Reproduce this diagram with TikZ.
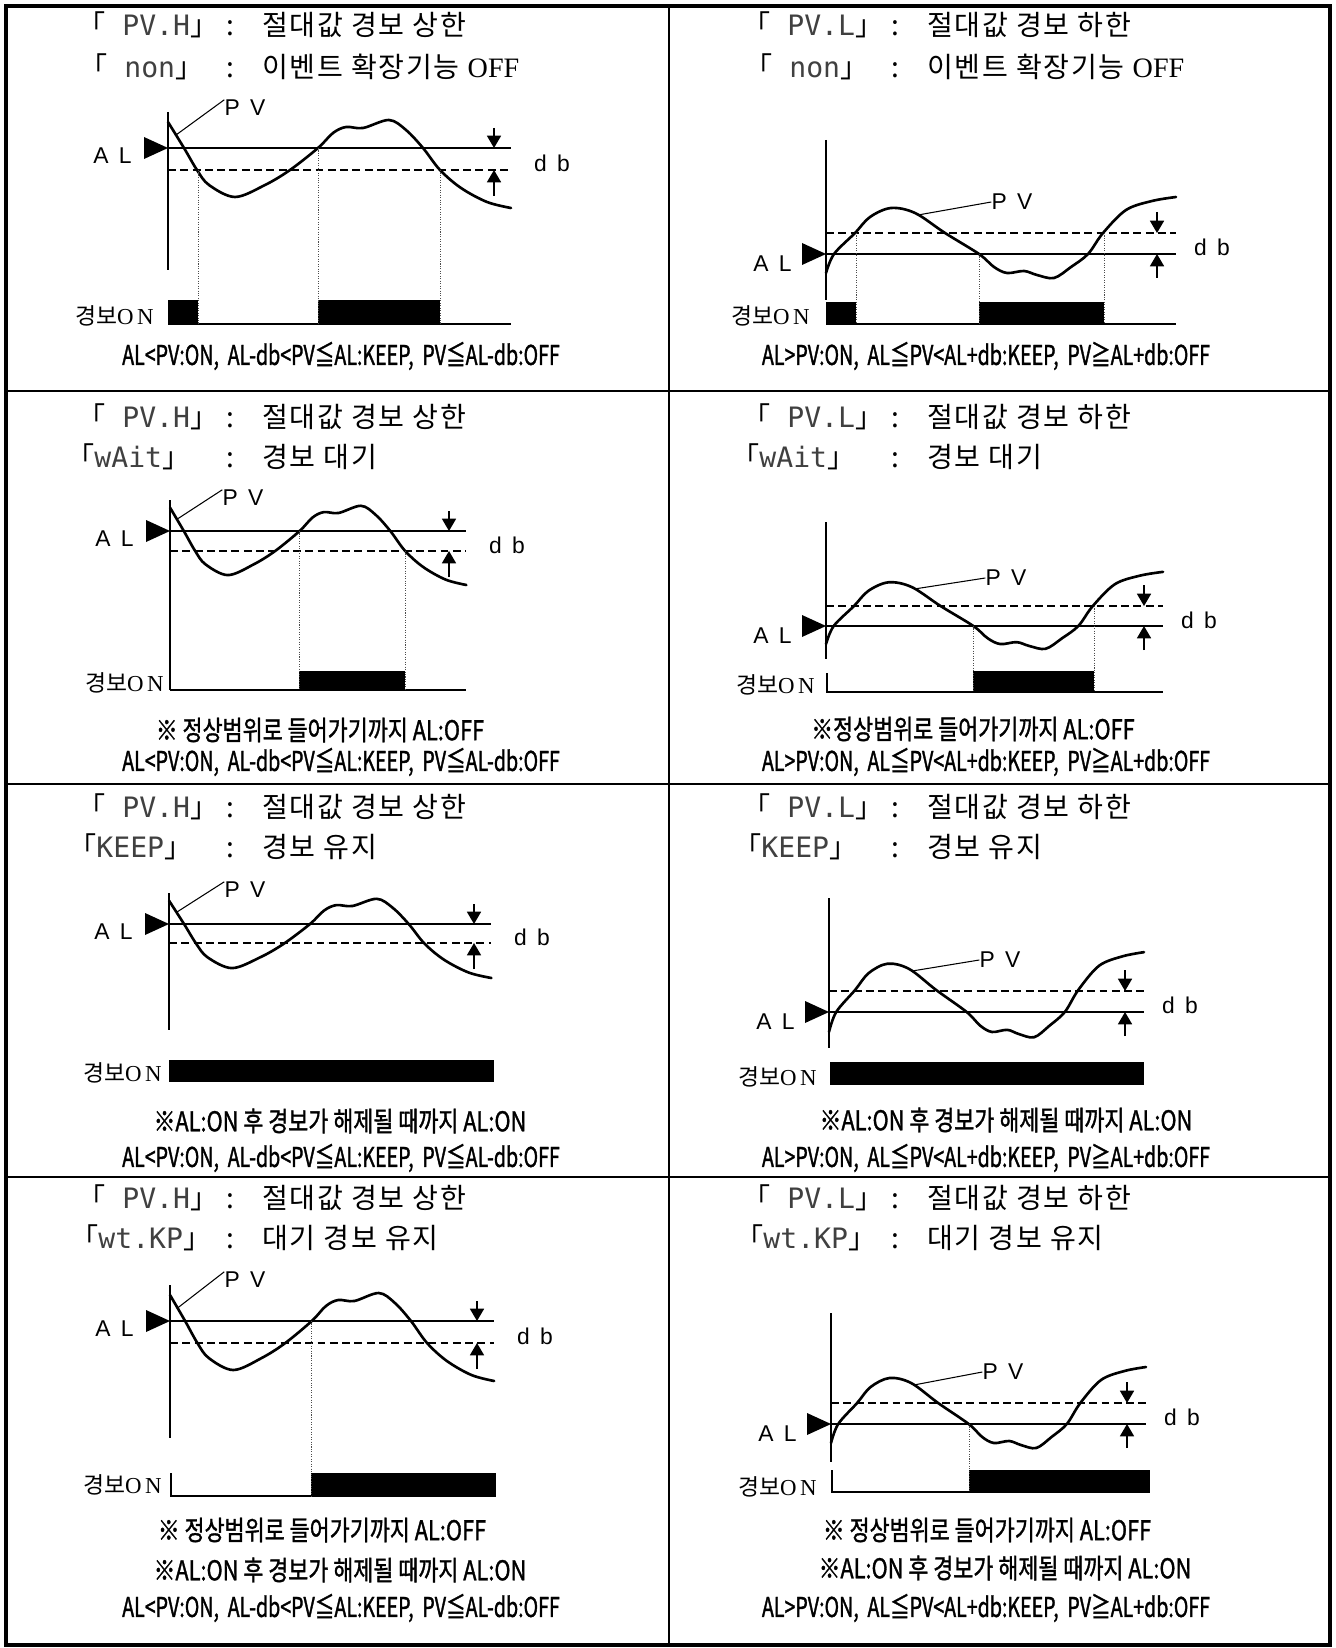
\documentclass[tikz,border=0pt]{standalone}
\usepackage{fontspec}
\usetikzlibrary{arrows.meta}
\setmainfont{Liberation Serif}
\newfontfamily\krfont{Noto Sans CJK KR}
\newfontfamily\headfont[LetterSpace=6]{Noto Sans CJK KR}
\newfontfamily\segfont{DejaVu Sans Mono}
\newfontfamily\labfont[LetterSpace=45]{Liberation Sans}
\newfontfamily\onfont[LetterSpace=15]{Liberation Serif}
\newfontfamily\condfont[FakeStretch=0.72, FakeBold=1.2]{Noto Sans CJK KR}
\newfontfamily\notefont[FakeStretch=0.8, FakeBold=1.2]{Noto Sans CJK KR}
\newcommand{\segcode}[1]{{\krfont 「}{\segfont\color{black!75}#1}{\krfont 」}}
\newcommand{\onlabel}{{\krfont 경보}{\onfont ON}}
\newcommand{\hifoot}{AL<PV:ON,\ \ AL-db<PV≦AL:KEEP,\ \ PV≦AL-db:OFF}
\newcommand{\lofoot}{AL>PV:ON,\ \ AL≦PV<AL+db:KEEP,\ \ PV≧AL+db:OFF}
\begin{document}
\begin{tikzpicture}[x=0.02cm, y=-0.02cm,
    frame/.style={line width=1.8pt},
    cell/.style={line width=1.1pt},
    axisline/.style={line width=0.8pt},
    alline/.style={line width=0.8pt},
    dbline/.style={line width=0.8pt, dash pattern=on 4.5pt off 2.5pt},
    guide/.style={line width=0.5pt, black!70, dash pattern=on 0.6pt off 0.8pt},
    pvcurve/.style={line width=1.5pt, line join=round, line cap=round},
    leader/.style={line width=0.6pt},
    dbarrow/.style={line width=0.8pt, -{Triangle[length=7pt, width=8pt]}},
    alarmbar/.style={fill=black},
    head/.style={anchor=west, inner sep=0pt, font=\headfont\fontsize{16}{19}\selectfont},
    lab/.style={inner sep=0pt, font=\labfont\fontsize{13}{15}\selectfont},
    onlab/.style={anchor=east, inner sep=0pt, font=\fontsize{13}{15}\selectfont},
    cond/.style={inner sep=0pt, font=\condfont\fontsize{15.5}{18}\selectfont},
    note/.style={inner sep=0pt, font=\notefont\fontsize{15.5}{18}\selectfont}]

    % Fix the page to the whole table
    \useasboundingbox (0,0) rectangle (1335,1648);

    % Draw outer frame and cell borders
    \draw[frame] (6,6) rectangle (1330,1645);
    \draw[cell] (669,6) -- (669,1645);
    \foreach \y in {391, 784, 1177} {
        \draw[cell] (6,\y) -- (1330,\y);
    }

    % Headers of every row, upper limit left and lower limit right
    \foreach \r/\ya/\yb/\bx/\code/\txt in {1/25/67/79/{\ non}/{이벤트 확장기능 {\rmfamily OFF}}, 2/417/457/66/wAit/{경보 대기}, 3/807/847/68/KEEP/{경보 유지}, 4/1198/1238/70/wt.KP/{대기 경보 유지}} {
        \node[head] (hiA\r) at (77,\ya) {\segcode{\ PV.H}};
        \node[head] (hiB\r) at (226,\ya) {:\quad 절대값 경보 상한};
        \node[head] (hiC\r) at (\bx,\yb) {\segcode{\code}};
        \node[head] (hiD\r) at (226,\yb) {:\quad \txt};
        \node[head] (loA\r) at (742,\ya) {\segcode{\ PV.L}};
        \node[head] (loB\r) at (891,\ya) {:\quad 절대값 경보 하한};
        \node[head] (loC\r) at ({\bx+665},\yb) {\segcode{\code}};
        \node[head] (loD\r) at (891,\yb) {:\quad \txt};
    }

    % Upper limit charts (left column)
    \foreach \i/\ax/\al/\db/\sx/\sy/\w/\ytop/\ybot/\px/\py in {1/168/148/22/1/1/343/36/122/77/40, 3/170/531/20/0.864/0.9/296/31/159/73/33, 5/169/924/19/0.94/0.9/322/31/106/76/34, 7/170/1321/22/0.945/1/324/36/117/75/41} {
        \begin{scope}[shift={(\ax,\al)}]
            % axis, alarm line and deadband line
            \draw[axisline] (0,-\ytop) -- (0,\ybot);
            \coordinate (alL\i) at (0,0);
            \coordinate (alR\i) at (\w,0);
            \coordinate (dbL\i) at (0,\db);
            \coordinate (dbR\i) at (\w,\db);
            \draw[alline] (alL\i) -- (alR\i);
            \draw[dbline] (dbL\i) -- (dbR\i);
            % AL marker
            \fill (alL\i) -- ++(-24,-11) -- ++(0,22) -- cycle;
            \node[lab, anchor=east] (al\i) at (-36,8) {AL};
            % PV curve
            \begin{scope}[xscale=\sx, yscale=\sy]
                \draw[pvcurve] plot[smooth, tension=0.55] coordinates {(0,-26) (16,0) (29,22) (41,37) (67,49) (97,37) (122,22) (150,0) (165,-15) (178,-21) (195,-20) (221,-28) (238,-18) (255,0) (272,22) (293,40) (319,54) (343,60)};
                \coordinate (pvfoot\i) at (8,-13);
            \end{scope}
            \node[lab] (pv\i) at (\px,-\py) {PV};
            \draw[leader] (pvfoot\i) -- (pv\i.north west);
            % deadband arrows
            \coordinate (dbup\i) at ({\w-17},-20);
            \coordinate (dbdn\i) at ({\w-17},{\db+26});
            \draw[dbarrow] (dbup\i) -- (dbup\i |- alR\i);
            \draw[dbarrow] (dbdn\i) -- (dbdn\i |- dbR\i);
            \node[lab] (db\i) at ({\w+41},{\db/2+4}) {db};
        \end{scope}
    }

    % Lower limit charts (right column)
    \foreach \i/\ax/\al/\db/\sx/\sy/\w/\ytop/\ybot/\px/\py in {2/826/254/21/1/1/350/114/46/186/52, 4/826/626/20/0.963/0.95/337/104/33/180/48, 6/829/1012/21/0.9/1.05/315/114/36/171/52, 8/831/1424/21/0.9/1/315/111/38/172/52} {
        \begin{scope}[shift={(\ax,\al)}]
            % axis, alarm line and deadband line
            \draw[axisline] (0,-\ytop) -- (0,\ybot);
            \coordinate (alL\i) at (0,0);
            \coordinate (alR\i) at (\w,0);
            \coordinate (dbL\i) at (0,-\db);
            \coordinate (dbR\i) at (\w,-\db);
            \draw[alline] (alL\i) -- (alR\i);
            \draw[dbline] (dbL\i) -- (dbR\i);
            % AL marker
            \fill (alL\i) -- ++(-24,-11) -- ++(0,22) -- cycle;
            \node[lab, anchor=east] (al\i) at (-34,10) {AL};
            % PV curve
            \begin{scope}[xscale=\sx, yscale=\sy]
                \draw[pvcurve] plot[smooth, tension=0.55] coordinates {(0,19) (8,0) (29,-21) (44,-37) (65,-46) (89,-41) (119,-21) (153,0) (168,13) (181,19) (198,17) (211,21) (228,24) (245,13) (262,0) (277,-21) (300,-44) (326,-53) (350,-57)};
                \coordinate (pvfoot\i) at (92,-39);
            \end{scope}
            \node[lab] (pv\i) at (\px,-\py) {PV};
            \draw[leader] (pvfoot\i) -- (pv\i.west);
            % deadband arrows
            \coordinate (dbup\i) at ({\w-19},{-\db-21});
            \coordinate (dbdn\i) at ({\w-19},24);
            \draw[dbarrow] (dbup\i) -- (dbup\i |- dbR\i);
            \draw[dbarrow] (dbdn\i) -- (dbdn\i |- alR\i);
            \node[lab] (db\i) at ({\w+36},{-\db/2+4}) {db};
        \end{scope}
    }

    % Alarm output of row 1 (event off)
    \draw[alline] (168,324) -- (511,324);
    \fill[alarmbar] (168,300) rectangle (198,324);
    \fill[alarmbar] (318,300) rectangle (440,324);
    \foreach \x/\y in {198/170, 318/148, 440/170} {
        \draw[guide] (\x,\y) -- (\x,324);
    }
    \node[onlab] (on1) at (154,316) {\onlabel};
    \draw[alline] (826,324) -- (1176,324);
    \fill[alarmbar] (826,302) rectangle (856,324);
    \fill[alarmbar] (979,302) rectangle (1104,324);
    \foreach \x/\y in {856/233, 979/254, 1104/233} {
        \draw[guide] (\x,\y) -- (\x,324);
    }
    \node[onlab] (on2) at (810,316) {\onlabel};

    % Alarm output of row 2 (wait)
    \draw[alline] (170,690) -- (466,690);
    \fill[alarmbar] (299,671) rectangle (405,690);
    \foreach \x/\y in {299/531, 405/551} {
        \draw[guide] (\x,\y) -- (\x,690);
    }
    \node[onlab] (on3) at (164,683) {\onlabel};
    \draw[alline] (827,673) -- (827,692) -- (1163,692);
    \fill[alarmbar] (973,671) rectangle (1094,692);
    \foreach \x/\y in {973/626, 1094/606} {
        \draw[guide] (\x,\y) -- (\x,692);
    }
    \node[onlab] (on4) at (815,685) {\onlabel};

    % Alarm output of row 3 (keep)
    \fill[alarmbar] (169,1060) rectangle (494,1082);
    \node[onlab] (on5) at (162,1073) {\onlabel};
    \fill[alarmbar] (830,1062) rectangle (1144,1085);
    \node[onlab] (on6) at (817,1077) {\onlabel};

    % Alarm output of row 4 (wait and keep)
    \draw[alline] (171,1473) -- (171,1496) -- (496,1496);
    \fill[alarmbar] (311,1473) rectangle (496,1496);
    \draw[guide] (311,1321) -- (311,1496);
    \node[onlab] (on7) at (162,1485) {\onlabel};
    \draw[alline] (832,1470) -- (832,1492) -- (1150,1492);
    \fill[alarmbar] (969,1470) rectangle (1150,1492);
    \draw[guide] (969,1424) -- (969,1492);
    \node[onlab] (on8) at (817,1487) {\onlabel};

    % Notes
    \node[note] (waitL) at (320,730) {※ 정상범위로 들어가기까지 AL:OFF};
    \node[note] (waitR) at (973,729) {※정상범위로 들어가기까지 AL:OFF};
    \node[note] (keepL) at (340,1121) {※AL:ON 후 경보가 해제될 때까지 AL:ON};
    \node[note] (keepR) at (1006,1120) {※AL:ON 후 경보가 해제될 때까지 AL:ON};
    \node[note] (wtkpL1) at (322,1530) {※ 정상범위로 들어가기까지 AL:OFF};
    \node[note] (wtkpL2) at (340,1570) {※AL:ON 후 경보가 해제될 때까지 AL:ON};
    \node[note] (wtkpR1) at (987,1530) {※ 정상범위로 들어가기까지 AL:OFF};
    \node[note] (wtkpR2) at (1005,1568) {※AL:ON 후 경보가 해제될 때까지 AL:ON};

    % Switching conditions at the foot of every cell
    \foreach \r/\yy in {1/356, 2/762, 3/1158, 4/1608} {
        \node[cond] (footL\r) at (341,\yy) {\hifoot};
        \node[cond] (footR\r) at (986,\yy) {\lofoot};
    }
\end{tikzpicture}
\end{document}
